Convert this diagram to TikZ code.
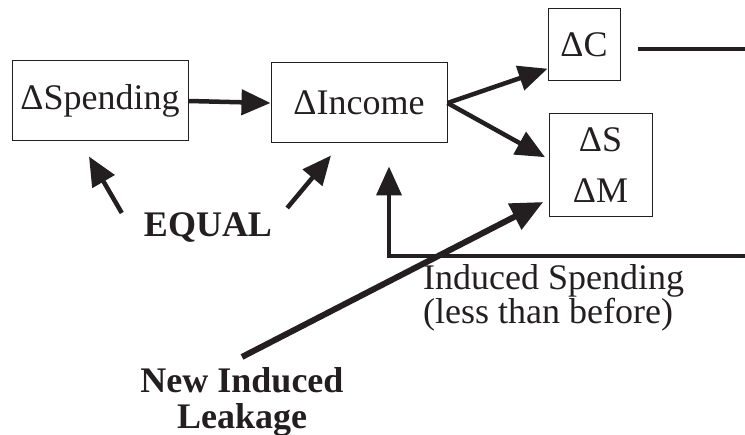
\documentclass[tikz,border=0pt]{standalone}
\usepackage{fontspec}
\setmainfont{Liberation Serif}
\usepackage{tikz}
\usetikzlibrary{calc,arrows.meta,positioning}
\definecolor{mxink}{RGB}{35,31,32}

\begin{document}
\begin{tikzpicture}[x=1pt,y=1pt,
  box/.style={draw=mxink, line width=1pt, inner sep=0pt, text=mxink, font=\fontsize{36}{42}\selectfont},
  lbl/.style={text=mxink, inner sep=0pt, font=\fontsize{36}{36}\selectfont},
  arr/.style={mxink, line width=4.5pt, -{Triangle[length=29pt,width=25pt]}}]
\useasboundingbox (0,0) rectangle (745,-435);
% boxes
\node[box, minimum width=176pt, minimum height=80pt] (spend) at (100,-101) {ΔSpending};
\node[box, minimum width=176pt, minimum height=80pt] (inc) at (359,-103) {ΔIncome};
\node[box, minimum width=72pt, minimum height=72pt] (dC) at (584,-45) {ΔC};
\node[box, minimum width=103pt, minimum height=103pt, align=center,
  font=\fontsize{36}{51}\selectfont] (dSM) at (600.5,-165.5) {ΔS\\ΔM};
% labels
\node[lbl, font=\bfseries\fontsize{36}{36}\selectfont, anchor=base] (eq) at (208,-237) {EQUAL};
\node[lbl, align=left, anchor=north west, font=\fontsize{36}{34}\selectfont] (indsp) at (423,-264.4)
  {Induced Spending\\(less than before)};
\node[lbl, align=center, font=\bfseries\fontsize{36}{36}\selectfont] (leak) at (242,-401.6)
  {New Induced\\Leakage};
\coordinate (cEnd) at (745,-49);
\coordinate (fb) at (745,-256);
% connectors
\draw[arr] (spend.east) -- (inc.west);
\draw[arr] (inc.east) -- (dC.213.7);
\draw[arr, shorten >=4pt] (inc.east) -- (dSM.173);
\draw[mxink, line width=4.5pt] ([xshift=17pt,yshift=-4pt]dC.east) -- (cEnd);
\draw[arr, line width=4pt] (fb) -| ([xshift=30pt,yshift=-23pt]inc.south);
\draw[arr] ([xshift=-22pt]eq.north west) -- ([xshift=-11pt,yshift=-15pt]spend.south);
\draw[arr] ([xshift=15pt,yshift=5pt]eq.north east) -- ([xshift=-28pt,yshift=-12pt]inc.south);
\draw[arr, line width=6pt, -{Triangle[length=32pt,width=28pt]}, shorten >=6pt]
  ([yshift=10pt]leak.north) -- (dSM.213);
\end{tikzpicture}
\end{document}
